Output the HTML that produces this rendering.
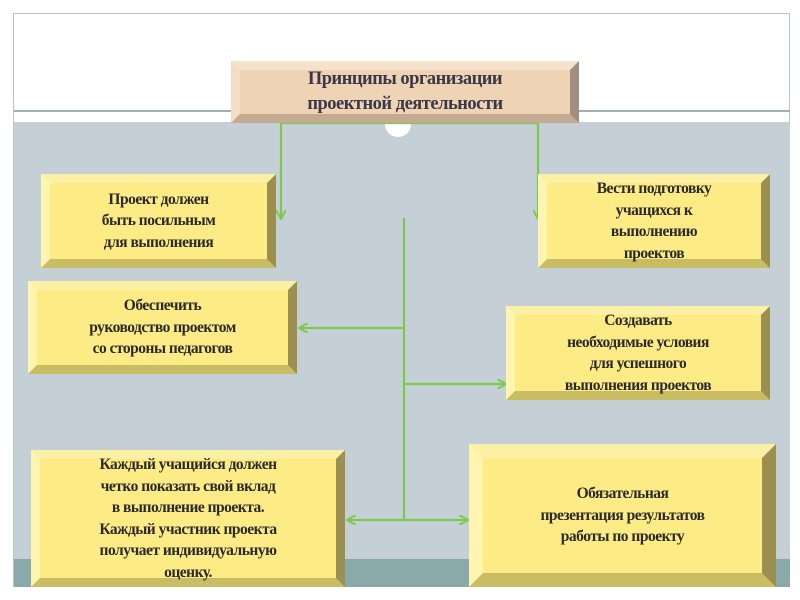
<!DOCTYPE html>
<html><head><meta charset="utf-8"><style>
body{margin:0;width:800px;height:600px;background:#fff;position:relative;overflow:hidden;font-family:"Liberation Serif",serif}
.a{position:absolute}
.b{position:absolute;box-sizing:border-box;border-style:solid;border-width:9px;border-top-color:#fbf0a4;border-left-color:#fff5b0;border-right-color:#9c9050;border-bottom-color:#c9bc62;background:#fdeb86;display:flex;align-items:center;justify-content:center;text-align:center;font-weight:bold;font-size:15.5px;line-height:21.5px;color:#2a2a2a;letter-spacing:-0.5px}
.t{border-top-color:#f6e2cc;border-left-color:#f3ddc6;border-right-color:#a08f80;border-bottom-color:#c5aa92;background:#eed3b4;font-size:18.5px;line-height:25px;color:#3a3848}
</style></head><body>
<div class="a" style="left:13px;top:13px;width:777px;height:574px;border:1px solid #b8c6c8;box-sizing:border-box"></div>
<div class="a" style="left:14px;top:110px;width:776px;height:2px;background:#9fb0b4"></div>
<div class="a" style="left:14px;top:122px;width:776px;height:437px;background:#c5d0d6"></div>
<div class="a" style="left:14px;top:559px;width:776px;height:28px;background:#8aa9ab"></div>
<div class="a" style="left:385px;top:115px;width:26px;height:22px;border-radius:0 0 13px 13px;background:#fff"></div>
<svg class="a" style="left:0;top:0" width="800" height="600">
<defs><marker id="m" markerWidth="10" markerHeight="10" refX="8" refY="5" orient="auto" markerUnits="userSpaceOnUse"><path d="M0,0 L9,5 L0,10" fill="none" stroke="#7dc84f" stroke-width="2"/></marker></defs>
<g stroke="#7dc84f" stroke-width="2.2" fill="none">
<path d="M281,123 H538"/>
<path d="M281,123 V218" marker-end="url(#m)"/>
<path d="M538,123 V218" marker-end="url(#m)"/>
<path d="M404,218 V520"/>
<path d="M404,328 H300" marker-end="url(#m)"/>
<path d="M404,384 H505" marker-end="url(#m)"/>
<path d="M404,520 H348" marker-end="url(#m)"/>
<path d="M404,520 H467" marker-end="url(#m)"/>
</g></svg>
<div class="b t" style="left:231px;top:61px;width:348px;height:62px">Принципы организации<br>проектной деятельности</div>
<div class="b" style="left:41px;top:174px;width:235px;height:94px">Проект должен<br>быть посильным<br>для выполнения</div>
<div class="b" style="left:538px;top:174px;width:232px;height:94px">Вести подготовку<br>учащихся к<br>выполнению<br>проектов</div>
<div class="b" style="left:28px;top:281px;width:269px;height:93px">Обеспечить<br>руководство проектом<br>со стороны педагогов</div>
<div class="b" style="left:506px;top:306px;width:264px;height:94px">Создавать<br>необходимые условия<br>для успешного<br>выполнения проектов</div>
<div class="b" style="left:31px;top:450px;width:314px;height:137px">Каждый учащийся должен<br>четко показать свой вклад<br>в выполнение проекта.<br>Каждый участник проекта<br>получает индивидуальную<br>оценку.</div>
<div class="b" style="left:469px;top:444px;width:307px;height:143px;border-width:14px">Обязательная<br>презентация результатов<br>работы по проекту</div>
</body></html>
